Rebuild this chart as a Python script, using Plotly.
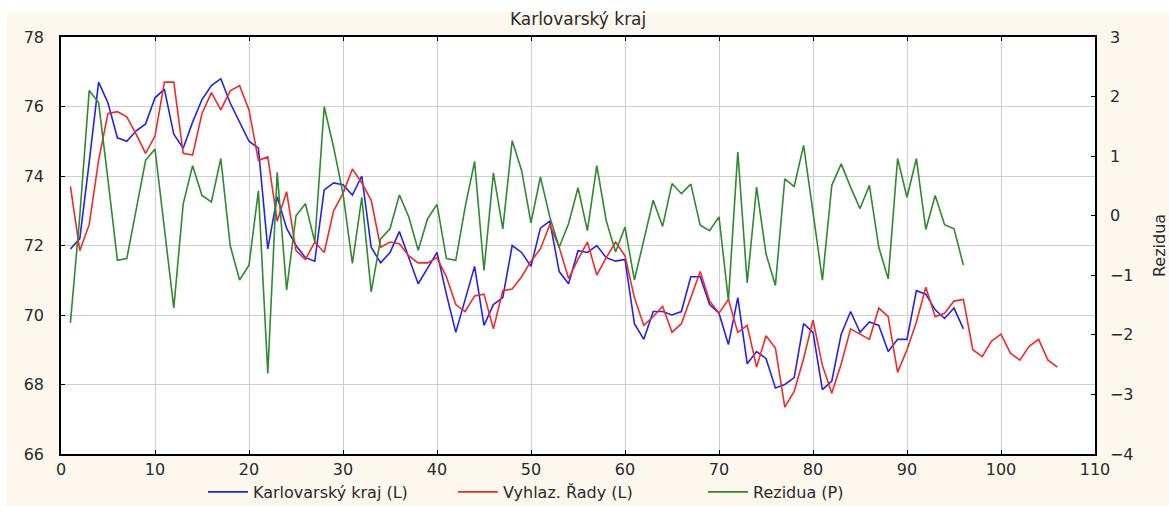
import plotly.graph_objects as go

# Period index (1..106)
periods_obs = list(range(1, 97))
periods_smooth = list(range(1, 107))

# Observed series - Karlovarský kraj (left axis)
karlovarsky = [
    71.9, 72.2, 74.4, 76.7, 76.1, 75.1, 75.0, 75.3, 75.5, 76.25,
    76.5, 75.2, 74.8, 75.55, 76.2, 76.6, 76.8, 76.1, 75.55, 75.0,
    74.8, 71.9, 73.4, 72.5, 72.0, 71.65, 71.55, 73.6, 73.8, 73.75,
    73.45, 74.0, 71.95, 71.5, 71.8, 72.4, 71.65, 70.9, 71.35, 71.8,
    70.6, 69.5, 70.45, 71.4, 69.7, 70.3, 70.5, 72.0, 71.8, 71.4,
    72.5, 72.7, 71.25, 70.9, 71.85, 71.8, 72.0, 71.65, 71.55, 71.6,
    69.75, 69.3, 70.1, 70.1, 70.0, 70.1, 71.1, 71.1, 70.3, 70.05,
    69.15, 70.5, 68.6, 68.95, 68.75, 67.9, 68.0, 68.2, 69.75, 69.5,
    67.85, 68.1, 69.45, 70.1, 69.5, 69.8, 69.7, 68.95, 69.3, 69.3,
    70.7, 70.6, 70.15, 69.9, 70.2, 69.6,
]

# Smoothed series incl. forecast - Vyhlaz. Řady (left axis)
vyhlazene = [
    73.7, 71.85, 72.6, 74.45, 75.8, 75.85, 75.7, 75.2, 74.65, 75.15,
    76.7, 76.7, 74.65, 74.6, 75.8, 76.4, 75.9, 76.45, 76.6, 75.9,
    74.45, 74.55, 72.7, 73.55, 71.85, 71.6, 72.1, 71.8, 73.0, 73.5,
    74.2, 73.8, 73.3, 71.95, 72.1, 72.05, 71.7, 71.5, 71.5, 71.65,
    71.1, 70.3, 70.1, 70.55, 70.6, 69.6, 70.7, 70.75, 71.1, 71.55,
    71.9, 72.6, 71.95, 71.05, 71.6, 72.1, 71.15, 71.65, 72.1, 71.7,
    70.5, 69.7, 69.95, 70.25, 69.5, 69.75, 70.5, 71.25, 70.4, 70.05,
    70.45, 69.5, 69.7, 68.5, 69.4, 69.05, 67.35, 67.8, 68.75, 69.85,
    68.55, 67.75, 68.6, 69.6, 69.45, 69.3, 70.2, 69.95, 68.35, 69.0,
    69.8, 70.8, 69.95, 70.05, 70.4, 70.45, 69.0, 68.8, 69.25, 69.45,
    68.9, 68.7, 69.1, 69.3, 68.7, 68.5,
]

# Residuals - Rezidua (right axis)
rezidua = [
    -1.8, 0.0, 2.1, 1.9, 0.6, -0.75, -0.72, 0.1, 0.93, 1.12,
    -0.25, -1.55, 0.2, 0.84, 0.34, 0.23, 0.96, -0.5, -1.08, -0.83,
    0.42, -2.65, 0.73, -1.25, 0.0, 0.2, -0.44, 1.83, 1.15, 0.37,
    -0.8, 0.31, -1.28, -0.39, -0.22, 0.35, -0.02, -0.58, -0.05, 0.19,
    -0.72, -0.75, 0.15, 0.91, -0.92, 0.72, -0.22, 1.26, 0.76, -0.12,
    0.65, -0.02, -0.53, -0.13, 0.47, -0.25, 0.84, -0.08, -0.61, -0.19,
    -1.08, -0.39, 0.26, -0.18, 0.54, 0.37, 0.53, -0.16, -0.25, -0.02,
    -1.42, 1.07, -1.13, 0.48, -0.64, -1.17, 0.62, 0.49, 1.18, 0.06,
    -1.08, 0.51, 0.87, 0.48, 0.12, 0.51, -0.53, -1.06, 0.96, 0.31,
    0.96, -0.23, 0.34, -0.15, -0.22, -0.83,
]

FONT = "DejaVu Sans, Liberation Sans, Arial, sans-serif"
TXT = "#2a2a2a"
GRID = "#cfcfcf"

fig = go.Figure()
fig.add_trace(go.Scatter(x=periods_obs, y=karlovarsky, mode="lines",
                         name="Karlovarský kraj (L)",
                         line=dict(color="#2323e6", width=1.6)))
fig.add_trace(go.Scatter(x=periods_smooth, y=vyhlazene, mode="lines",
                         name="Vyhlaz. Řady (L)",
                         line=dict(color="#ee2a2a", width=1.6)))
fig.add_trace(go.Scatter(x=periods_obs, y=rezidua, mode="lines",
                         name="Rezidua (P)", yaxis="y2",
                         line=dict(color="#2f8a2f", width=1.6)))

fig.update_layout(
    width=1169, height=506,
    margin=dict(l=61, r=74, t=37, b=52, autoexpand=False),
    paper_bgcolor="#fcf8ee",
    plot_bgcolor="#ffffff",
    font=dict(family=FONT, size=16, color=TXT),
    title=dict(text="Karlovarský kraj", x=0.4945, xanchor="center",
               y=1 - 19 / 506, yanchor="middle", yref="container",
               font=dict(family=FONT, size=17, color=TXT)),
    showlegend=True,
    legend=dict(orientation="h", x=0.5, xanchor="center",
                y=1 - 492 / 506, yanchor="middle", yref="container",
                font=dict(family=FONT, size=16, color=TXT),
                bgcolor="rgba(0,0,0,0)", itemwidth=40,
                entrywidth=195, entrywidthmode="pixels", tracegroupgap=0),
    xaxis=dict(range=[0, 110], dtick=10, tick0=0, showgrid=True, gridcolor=GRID,
               gridwidth=1, zeroline=False, showline=True, linecolor="#000000",
               linewidth=1.5, mirror="ticks", ticks="inside", ticklen=4,
               tickcolor="#000000", tickfont=dict(size=16, color=TXT),
               automargin=False),
    yaxis=dict(range=[66, 78], dtick=2, tick0=66, showgrid=True, gridcolor=GRID,
               gridwidth=1, zeroline=False, showline=True, linecolor="#000000",
               linewidth=1.5, ticks="inside", ticklen=4, tickcolor="#000000",
               ticklabelstandoff=12, tickfont=dict(size=16, color=TXT),
               automargin=False),
    yaxis2=dict(range=[-4, 3], dtick=1, tick0=-4, overlaying="y", side="right",
                showgrid=False, zeroline=False, showline=True, linecolor="#000000",
                linewidth=1.5, ticks="inside", ticklen=4, tickcolor="#000000",
                ticklabelstandoff=10, tickfont=dict(size=16, color=TXT),
                automargin=False,
                title=dict(text="Rezidua", standoff=27,
                           font=dict(size=16, color=TXT))),
    shapes=[
        # white margins of the page around the cream panel
        dict(type="rect", xref="paper", yref="paper", x0=-0.07, x1=1.08,
             y0=1.06, y1=1.1, fillcolor="#ffffff", line=dict(width=0), layer="above"),
        dict(type="rect", xref="paper", yref="paper", x0=-0.07, x1=-0.0522,
             y0=-0.2, y1=1.1, fillcolor="#ffffff", line=dict(width=0), layer="above"),
    ],
)

fig.write_html("out.html")
